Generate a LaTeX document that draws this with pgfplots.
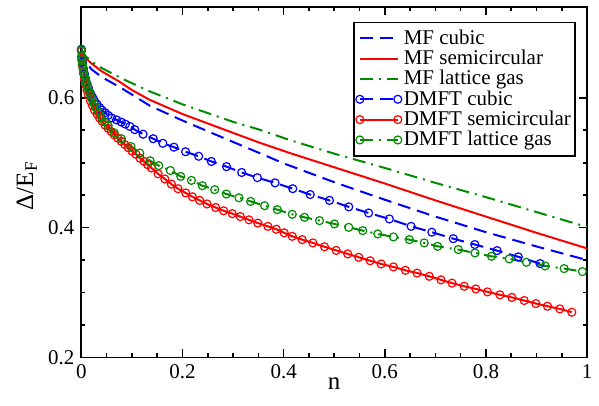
\documentclass[border=0pt]{standalone}
\usepackage{fontspec}
\setmainfont{Liberation Serif}
\usepackage{pgfplots}
\pgfplotsset{compat=1.18}
\definecolor{ggreen}{RGB}{0,139,0}

\begin{document}
\begin{tikzpicture}
\begin{axis}[
  scale only axis, width=253.25pt, height=175.5pt,
  xmin=0, xmax=1, ymin=0.2, ymax=0.74,
  xtick={0,0.2,0.4,0.6,0.8,1}, ytick={0.2,0.4,0.6},
  minor x tick num=3, minor y tick num=3,
  tick align=inside, major tick length=4pt, minor tick length=2pt,
  every tick/.style={black, line width=0.8pt},
  axis line style={line width=0.9pt},
  /pgf/number format/assume math mode=true,
  ticklabel style={font=\fontsize{10.5}{12}\selectfont},
  xlabel={n}, ylabel={Δ/E\textsubscript{F}},
  every axis x label/.style={at={(axis description cs:0.5,-0.075)}, anchor=center, font=\fontsize{12.5}{14}\selectfont},
  every axis y label/.style={at={(axis description cs:-0.108,0.49)}, rotate=90, anchor=center, font=\fontsize{12.5}{14}\selectfont},
  legend style={at={(axis description cs:0.9775,0.958)}, anchor=north east,
    draw=black, line width=0.8pt, font=\fontsize{10.5}{12}\selectfont,
    inner xsep=1pt, inner ysep=1.5pt, row sep=-2.6pt,
    nodes={inner xsep=1pt}},
  legend cell align=left,
  legend image code/.code={\draw[#1] plot coordinates {(0pt,0pt) (19pt,0pt)};},
  every axis plot/.append style={line width=1pt},
]
\addplot[blue, dash pattern=on 6.5pt off 3.5pt] coordinates {
(0,0.676) (0.005,0.661) (0.01,0.654) (0.02,0.644) (0.04,0.632) (0.075,0.617)
(0.1,0.605) (0.135,0.588) (0.2,0.565) (0.3,0.532) (0.352,0.515) (0.4,0.499)
(0.5,0.470) (0.6,0.443) (0.7,0.417) (0.8,0.393) (0.9,0.371) (1.0,0.350)};
\addlegendentry{MF cubic}
\addplot[red] coordinates {
(0,0.674) (0.005,0.664) (0.01,0.660) (0.02,0.653) (0.04,0.641) (0.075,0.625)
(0.1,0.612) (0.135,0.597) (0.2,0.575) (0.3,0.546) (0.352,0.531) (0.412,0.515)
(0.5,0.493) (0.6,0.468) (0.7,0.442) (0.8,0.417) (0.9,0.392) (1.0,0.368)};
\addlegendentry{MF semicircular}
\addplot[ggreen, dash pattern=on 6.5pt off 3pt on 1pt off 3pt] coordinates {
(0,0.676) (0.005,0.667) (0.01,0.663) (0.02,0.656) (0.04,0.646) (0.085,0.628)
(0.135,0.610) (0.2,0.590) (0.3,0.563) (0.352,0.551) (0.412,0.535) (0.5,0.514)
(0.6,0.492) (0.7,0.469) (0.8,0.447) (0.9,0.424) (1.0,0.401)};
\addlegendentry{MF lattice gas}
\addplot[blue, dash pattern=on 6.5pt off 3.5pt, mark=o, mark size=2pt, mark options={solid, line width=0.6pt}] coordinates {
(0.0,0.675) (0.001,0.662) (0.002,0.655) (0.004,0.645) (0.006,0.637) (0.008,0.630)
(0.011,0.622) (0.014,0.615) (0.018,0.607) (0.022,0.601) (0.026,0.595) (0.031,0.590)
(0.036,0.585) (0.041,0.581) (0.047,0.577) (0.053,0.573) (0.060,0.569) (0.0695,0.566)
(0.079,0.5626) (0.087,0.5595) (0.0958,0.556) (0.1056,0.551) (0.122,0.544) (0.142,0.537)
(0.161,0.530) (0.183,0.524) (0.206,0.517) (0.232,0.510) (0.257,0.502) (0.287,0.494)
(0.317,0.485) (0.348,0.477) (0.383,0.469) (0.418,0.460) (0.4525,0.451) (0.4906,0.442)
(0.5287,0.432) (0.568,0.4226) (0.609,0.4134) (0.652,0.402) (0.693,0.393) (0.7354,0.383)
(0.778,0.374) (0.822,0.3646) (0.864,0.355) (0.907,0.3446)};
\addlegendentry{DMFT cubic}
\addplot[red, mark=o, mark size=2pt, mark options={solid, line width=0.6pt}] coordinates {
(0.0,0.672) (0.001,0.658) (0.002,0.650) (0.004,0.638) (0.006,0.629) (0.008,0.621)
(0.011,0.612) (0.014,0.604) (0.018,0.595) (0.022,0.588) (0.026,0.581) (0.031,0.575)
(0.036,0.569) (0.041,0.564) (0.047,0.558) (0.053,0.553) (0.059,0.548) (0.065,0.543)
(0.072,0.538) (0.079,0.533) (0.086,0.528) (0.093,0.523) (0.100,0.518) (0.108,0.513)
(0.116,0.507) (0.124,0.502) (0.131,0.497) (0.1386,0.492) (0.1516,0.483) (0.165,0.475)
(0.178,0.467) (0.191,0.460) (0.2063,0.4535) (0.2195,0.4475) (0.234,0.442) (0.2484,0.4365)
(0.2655,0.431) (0.2813,0.426) (0.2985,0.4215) (0.3143,0.417) (0.3313,0.412) (0.349,0.407)
(0.3688,0.402) (0.3854,0.3975) (0.401,0.392) (0.417,0.3866) (0.4367,0.3815) (0.4577,0.3765)
(0.4808,0.3705) (0.5038,0.365) (0.5267,0.3595) (0.5485,0.3543) (0.571,0.349) (0.5927,0.344)
(0.617,0.3395) (0.6407,0.3343) (0.6638,0.330) (0.688,0.325) (0.7111,0.3195) (0.7329,0.3145)
(0.757,0.3097) (0.780,0.3055) (0.803,0.301) (0.8276,0.2965) (0.8513,0.2925) (0.8756,0.2877)
(0.8987,0.283) (0.9216,0.279) (0.946,0.2748) (0.9698,0.2697)};
\addlegendentry{DMFT semicircular}
\addplot[ggreen, dash pattern=on 6.5pt off 3pt on 1pt off 3pt, mark=o, mark size=2pt, mark options={solid, line width=0.6pt}] coordinates {
(0.0,0.674) (0.0005,0.664) (0.001,0.659) (0.002,0.652) (0.003,0.646) (0.0045,0.640)
(0.006,0.634) (0.008,0.628) (0.010,0.622) (0.0125,0.616) (0.015,0.610) (0.018,0.604)
(0.021,0.598) (0.025,0.591) (0.029,0.585) (0.034,0.578) (0.040,0.570) (0.046,0.563)
(0.053,0.557) (0.065,0.546) (0.079,0.537) (0.098,0.525) (0.1155,0.515) (0.136,0.503)
(0.153,0.4955) (0.176,0.488) (0.1964,0.479) (0.2176,0.4728) (0.2393,0.4646) (0.2636,0.4585)
(0.2867,0.4518) (0.3116,0.446) (0.3347,0.4405) (0.3623,0.4338) (0.3874,0.4277) (0.417,0.4205)
(0.4413,0.4159) (0.4709,0.4108) (0.5005,0.4057) (0.5287,0.4005) (0.5564,0.3954) (0.586,0.3903)
(0.617,0.3857) (0.6486,0.3815) (0.678,0.3765) (0.7044,0.3712) (0.7453,0.3662) (0.7783,0.361)
(0.811,0.3558) (0.846,0.3518) (0.880,0.3466) (0.917,0.341) (0.9546,0.3369) (0.9907,0.3323)};
\addlegendentry{DMFT lattice gas}
\end{axis}
\path ([shift={(5.5pt,3.5pt)}]current axis.north east);
\path ([shift={(-40.75pt,-24pt)}]current axis.south west);
\end{tikzpicture}
\end{document}
